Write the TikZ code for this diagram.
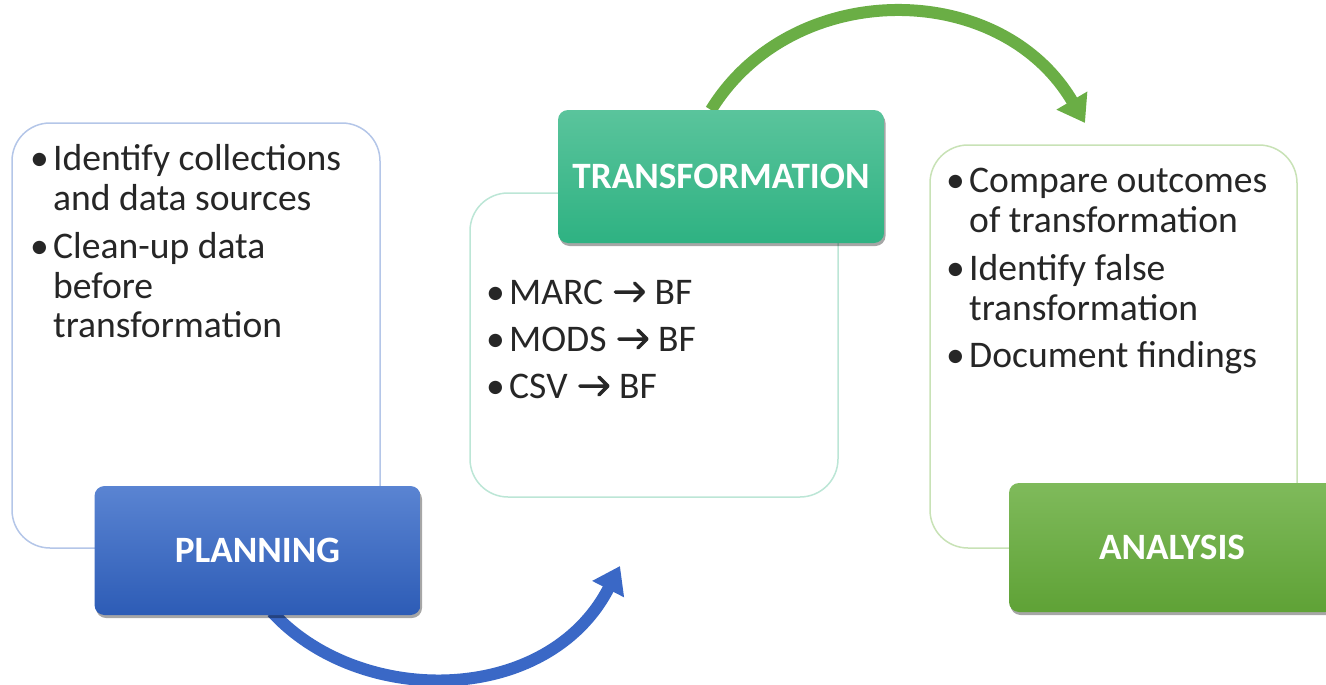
\documentclass[tikz,border=0pt]{standalone}
\usepackage{fontspec}
\setmainfont{Carlito}
\usetikzlibrary{arrows.meta,shadows}
\definecolor{blueline}{HTML}{B4C6E8}
\definecolor{tealline}{HTML}{BCE6D6}
\definecolor{greenline}{HTML}{C8E2B6}
\definecolor{bluetop}{HTML}{5A84D2}
\definecolor{bluebot}{HTML}{2D5CB6}
\definecolor{tealtop}{HTML}{5AC49C}
\definecolor{tealbot}{HTML}{2EB282}
\definecolor{greentop}{HTML}{7FBA5B}
\definecolor{greenbot}{HTML}{5FA236}
\definecolor{bluearrow}{HTML}{3A68C6}
\definecolor{greenarrow}{HTML}{6AAE45}
\newcommand{\rarr}{\hspace{2pt}\tikz[baseline={(0,-12pt)},x=1pt,y=1pt]{\draw[line width=3.5pt, line cap=round, line join=round] (0,0)--(28,0) (19,9)--(28,0)--(19,-9);}\hspace{1pt}}
\tikzset{
  outlinebox/.style={draw=#1, line width=1.5pt, rounded corners=38pt, fill=white, inner sep=0pt},
  header/.style={rounded corners=10pt, inner sep=0pt, minimum width=326pt, text=white,
     font=\fontsize{37.2}{40}\selectfont\bfseries,
     drop shadow={shadow xshift=1.5pt, shadow yshift=-3pt, opacity=0.35, fill=black}},
  bodytext/.style={anchor=base west, inner sep=0pt, font=\fontsize{37.6}{40}\selectfont, text=black!85},
  curvearrow/.style={draw=#1, line width=12pt, -{Triangle[width=34pt,length=26pt]}}
}
\newcommand{\blist}[1]{\begin{tabular}[t]{@{}p{23pt}@{}l@{}}#1\end{tabular}}
\begin{document}
\begin{tikzpicture}[x=1pt,y=-1pt]
\useasboundingbox (0,0) rectangle (1326,685);
% outline boxes
\node[outlinebox=blueline, minimum width=368pt, minimum height=425pt] (planbox) at (196,335.5) {};
\node[outlinebox=tealline, minimum width=368pt, minimum height=304pt] (transbox) at (654,345) {};
\node[outlinebox=greenline, minimum width=367pt, minimum height=403pt] (anabox) at (1113.5,346.5) {};
% arrows
\coordinate (blueend) at (620,566);
\coordinate (greenend) at (1085,123);
\coordinate (bluestart) at (272,612);
\coordinate (greenstart) at (711,110);
\draw[curvearrow=bluearrow] (bluestart) .. controls (360,708) and (548,706) .. (blueend);
\draw[curvearrow=greenarrow] (greenstart) .. controls (792,-22) and (1000,-22) .. (greenend);
% headers
\node[header, minimum height=129pt, top color=bluetop, bottom color=bluebot] (plan) at (257.5,550.5) {PLANNING};
\node[header, minimum height=133pt, top color=tealtop, bottom color=tealbot] (trans) at (721,176.5) {TRANSFORMATION};
\node[header, minimum height=129pt, top color=greentop, bottom color=greenbot] (ana) at (1172,547.5) {ANALYSIS};
% texts
\node[bodytext] (plantext) at (30,170) {\blist{\textbullet & Identify collections\\ & and data sources\\[8pt] \textbullet & Clean-up data\\ & before\\ & transformation}};
\node[bodytext] (transtext) at (486,304) {\blist{\textbullet & MARC \rarr\ BF\\[7pt] \textbullet & MODS \rarr\ BF\\[7pt] \textbullet & CSV \rarr\ BF}};
\node[bodytext] (anatext) at (946,192) {\blist{\textbullet & Compare outcomes\\ & of transformation\\[8pt] \textbullet & Identify false\\ & transformation\\[8pt] \textbullet & Document findings}};
\end{tikzpicture}
\end{document}
